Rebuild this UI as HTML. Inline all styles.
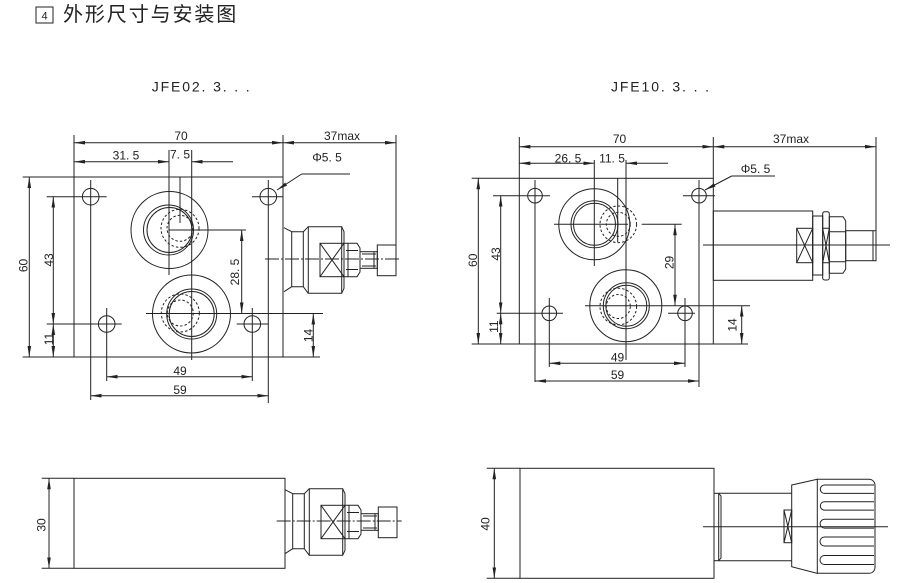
<!DOCTYPE html>
<html><head><meta charset="utf-8"><style>
html,body{margin:0;padding:0;background:#fff;}
svg{display:block;}
text{font-family:"Liberation Sans","Noto Sans CJK SC",sans-serif;fill:#222;}
</style></head><body>
<svg width="903" height="583" viewBox="0 0 903 583" xmlns="http://www.w3.org/2000/svg">
<defs>
<marker id="ar" markerUnits="userSpaceOnUse" markerWidth="12" markerHeight="6" refX="11" refY="3" orient="auto-start-reverse" viewBox="0 0 12 6"><path d="M0,1.2 L11,3 L0,4.8 Z" fill="#222"/></marker>
<g id="valveL" fill="none" stroke="#222" stroke-width="1">
 <path d="M284,227.7 L291.7,231.7 L291.7,286.7 L284,291.7"/>
 <path d="M291.7,231.7 H303.3 L308.3,226.7 M291.7,286.7 H303.3 L308.3,293.3"/>
 <line x1="303.3" y1="231.7" x2="303.3" y2="286.7"/>
 <path d="M308.3,226.7 L341.7,226.7 L344,231.7 L344,288.3 L341.7,293.3 L308.3,293.3 Z"/>
 <line x1="341.7" y1="226.7" x2="341.7" y2="293.3"/>
 <rect x="320" y="243.3" width="24" height="33.4"/>
 <path d="M320,243.3 L344,276.7 M344,243.3 L320,276.7"/>
 <path d="M344,243.3 H357 L360,248 V272 L357,276.7 H344"/>
 <path d="M346,250.5 H358 M346,269.5 H358 M348,243.3 V276.7"/>
 <rect x="360" y="251.7" width="17.3" height="16.6"/>
 <path d="M362,254 H376 M362,266 H376 M374,251.7 V268.3"/>
 <rect x="377.3" y="245" width="18.7" height="30.7"/>
</g>
</defs>

<!-- Title -->
<rect x="36" y="7" width="17" height="16" fill="none" stroke="#222" stroke-width="1"/>
<text x="44.5" y="19.5" font-size="11" text-anchor="middle">4</text>
<text x="63" y="21" font-size="20" letter-spacing="1.9">外形尺寸与安装图</text>

<text x="151.7" y="91.7" font-size="14" textLength="98" lengthAdjust="spacing">JFE02. 3. . .</text>
<text x="611" y="91.7" font-size="14" textLength="98" lengthAdjust="spacing">JFE10. 3. . .</text>

<g fill="none" stroke="#222" stroke-width="1">
<!-- ===== LEFT TOP ===== -->
<rect x="74" y="177" width="209" height="180"/>
<line x1="74" y1="135" x2="74" y2="177"/>
<line x1="283" y1="135" x2="283" y2="177"/>
<line x1="396" y1="135" x2="396" y2="246"/>
<line x1="74" y1="142.7" x2="283" y2="142.7" marker-start="url(#ar)" marker-end="url(#ar)"/>
<line x1="283" y1="142.7" x2="396" y2="142.7" marker-start="url(#ar)" marker-end="url(#ar)"/>
<line x1="74" y1="161.7" x2="169" y2="161.7" marker-start="url(#ar)" marker-end="url(#ar)"/>
<line x1="233" y1="161.7" x2="191.7" y2="161.7" marker-end="url(#ar)"/>
<line x1="169" y1="150" x2="169" y2="275"/>
<line x1="191.7" y1="150" x2="191.7" y2="360"/>
<line x1="180" y1="177" x2="180" y2="223"/>
<line x1="22.7" y1="177" x2="74" y2="177"/>
<line x1="22.7" y1="357" x2="320" y2="357"/>
<line x1="29.3" y1="177" x2="29.3" y2="357" marker-start="url(#ar)" marker-end="url(#ar)"/>
<line x1="53.3" y1="196.7" x2="53.3" y2="324" marker-start="url(#ar)" marker-end="url(#ar)"/>
<line x1="53.3" y1="324" x2="53.3" y2="357" marker-start="url(#ar)" marker-end="url(#ar)"/>
<line x1="46.7" y1="196.7" x2="106.7" y2="196.7"/>
<line x1="252" y1="196.7" x2="283" y2="196.7"/>
<line x1="46.7" y1="324" x2="121.7" y2="324"/>
<line x1="236.7" y1="324" x2="268" y2="324"/>
<line x1="90.7" y1="180" x2="90.7" y2="400"/>
<line x1="268.3" y1="180" x2="268.3" y2="403"/>
<line x1="106.7" y1="308" x2="106.7" y2="381"/>
<line x1="252.3" y1="308" x2="252.3" y2="381"/>
<circle cx="90.7" cy="196.7" r="8.3"/>
<circle cx="268.3" cy="196.7" r="8.3"/>
<circle cx="106.7" cy="324" r="8.3"/>
<circle cx="252.3" cy="324" r="8.3"/>
<circle cx="169.5" cy="230" r="38.5"/>
<circle cx="168.5" cy="230" r="25"/>
<circle cx="169.5" cy="230" r="22.5"/>
<circle cx="180" cy="228.3" r="19" stroke-dasharray="2.5 2"/>
<circle cx="180" cy="228.3" r="13" stroke-dasharray="2.5 2"/>
<line x1="169" y1="230" x2="246" y2="230"/>
<circle cx="191.5" cy="314" r="39"/>
<circle cx="191.7" cy="314" r="25"/>
<circle cx="191.7" cy="314" r="22.5"/>
<circle cx="180.3" cy="313" r="19" stroke-dasharray="2.5 2"/>
<circle cx="180.3" cy="313" r="13" stroke-dasharray="2.5 2"/>
<line x1="146" y1="313.5" x2="323" y2="313.5"/>
<line x1="241.7" y1="230" x2="241.7" y2="313.5" marker-start="url(#ar)" marker-end="url(#ar)"/>
<line x1="313.3" y1="313.5" x2="313.3" y2="357" marker-start="url(#ar)" marker-end="url(#ar)"/>
<line x1="106.7" y1="376.7" x2="252.3" y2="376.7" marker-start="url(#ar)" marker-end="url(#ar)"/>
<line x1="90.7" y1="395.7" x2="268.3" y2="395.7" marker-start="url(#ar)" marker-end="url(#ar)"/>
<line x1="301.7" y1="174" x2="277" y2="190" marker-end="url(#ar)"/>
<line x1="301.7" y1="174" x2="350" y2="174"/>
<line x1="265" y1="259" x2="400" y2="259" stroke-dasharray="14 2 2 2"/>
<use href="#valveL"/>

<!-- ===== RIGHT TOP ===== -->
<rect x="519.3" y="178.3" width="194" height="165.7"/>
<line x1="519.3" y1="137" x2="519.3" y2="178.3"/>
<line x1="713.3" y1="137" x2="713.3" y2="178.3"/>
<line x1="876" y1="137" x2="876" y2="231"/>
<line x1="519.3" y1="146.7" x2="713.3" y2="146.7" marker-start="url(#ar)" marker-end="url(#ar)"/>
<line x1="713.3" y1="146.7" x2="876" y2="146.7" marker-start="url(#ar)" marker-end="url(#ar)"/>
<line x1="519.3" y1="163.3" x2="594.3" y2="163.3" marker-start="url(#ar)" marker-end="url(#ar)"/>
<line x1="668" y1="163.3" x2="626" y2="163.3" marker-end="url(#ar)"/>
<line x1="594.3" y1="160" x2="594.3" y2="266"/>
<line x1="626" y1="160" x2="626" y2="360"/>
<line x1="617.7" y1="178.3" x2="617.7" y2="242"/>
<line x1="471.7" y1="178.3" x2="519.3" y2="178.3"/>
<line x1="471.7" y1="344" x2="748" y2="344"/>
<line x1="478.3" y1="178.3" x2="478.3" y2="344" marker-start="url(#ar)" marker-end="url(#ar)"/>
<line x1="500.7" y1="195.7" x2="500.7" y2="313.3" marker-start="url(#ar)" marker-end="url(#ar)"/>
<line x1="500.7" y1="313.3" x2="500.7" y2="344" marker-start="url(#ar)" marker-end="url(#ar)"/>
<line x1="493" y1="195.7" x2="550" y2="195.7"/>
<line x1="683" y1="195.7" x2="715" y2="195.7"/>
<line x1="496.7" y1="313.3" x2="563" y2="313.3"/>
<line x1="668" y1="313.3" x2="695" y2="313.3"/>
<line x1="535" y1="180" x2="535" y2="382"/>
<line x1="699" y1="180" x2="699" y2="387"/>
<line x1="549.3" y1="298" x2="549.3" y2="367"/>
<line x1="685" y1="298" x2="685" y2="367"/>
<circle cx="535" cy="195.7" r="7.3"/>
<circle cx="699" cy="195.7" r="7.3"/>
<circle cx="549.3" cy="313.3" r="7.3"/>
<circle cx="685" cy="313.3" r="7.3"/>
<circle cx="594.3" cy="224.3" r="35.5"/>
<circle cx="594.5" cy="224.3" r="23.5"/>
<circle cx="594.5" cy="224.3" r="21"/>
<circle cx="618.3" cy="224.3" r="18.3" stroke-dasharray="2.5 2"/>
<circle cx="618.3" cy="224.3" r="12" stroke-dasharray="2.5 2"/>
<line x1="554" y1="224.3" x2="628" y2="224.3"/>
<line x1="641.7" y1="224.3" x2="681.7" y2="224.3"/>
<circle cx="625.8" cy="305.7" r="36"/>
<circle cx="626.3" cy="305.7" r="23"/>
<circle cx="626.3" cy="305.7" r="20.5"/>
<circle cx="618.3" cy="306.5" r="18.3" stroke-dasharray="2.5 2"/>
<circle cx="618.3" cy="306.5" r="12" stroke-dasharray="2.5 2"/>
<line x1="585" y1="305.7" x2="750" y2="305.7"/>
<line x1="675" y1="224.3" x2="675" y2="305.7" marker-start="url(#ar)" marker-end="url(#ar)"/>
<line x1="741.7" y1="305.7" x2="741.7" y2="344" marker-start="url(#ar)" marker-end="url(#ar)"/>
<line x1="549.3" y1="363.3" x2="685" y2="363.3" marker-start="url(#ar)" marker-end="url(#ar)"/>
<line x1="535" y1="381" x2="699" y2="381" marker-start="url(#ar)" marker-end="url(#ar)"/>
<line x1="731.7" y1="176" x2="705" y2="190" marker-end="url(#ar)"/>
<line x1="731.7" y1="176" x2="775" y2="176"/>
<!-- right valve -->
<rect x="713.3" y="211" width="99.4" height="69.3"/>
<rect x="796.7" y="228.3" width="16" height="34.4"/>
<path d="M796.7,228.3 L812.7,262.7 M812.7,228.3 L796.7,262.7"/>
<rect x="812.7" y="216" width="10" height="59"/>
<rect x="822.7" y="211.7" width="6.6" height="68.3" rx="2"/>
<path d="M822.7,228.3 L829.3,262.7 M829.3,228.3 L822.7,262.7 M822.7,228.3 H829.3 M822.7,262.7 H829.3"/>
<path d="M829.3,216.7 H843 L845.7,221 V269 L843,273.3 H829.3 Z"/>
<path d="M829.3,231.7 H845.7 M829.3,261.7 H845.7"/>
<rect x="845.7" y="230.7" width="30.3" height="30"/>
<path d="M873,230.7 V260.7"/>
<line x1="703" y1="245" x2="890" y2="245"/>

<!-- ===== BOTTOM LEFT ===== -->
<rect x="74" y="478.3" width="211" height="90"/>
<line x1="41.7" y1="478.3" x2="74" y2="478.3"/>
<line x1="41.7" y1="568.3" x2="74" y2="568.3"/>
<line x1="49" y1="478.3" x2="49" y2="568.3" marker-start="url(#ar)" marker-end="url(#ar)"/>
<use href="#valveL" transform="translate(1,262)"/>
<line x1="276.7" y1="521" x2="401.7" y2="521" stroke-dasharray="14 2 2 2"/>

<!-- ===== BOTTOM RIGHT ===== -->
<rect x="520" y="468.3" width="194" height="110"/>
<line x1="486.7" y1="468.3" x2="520" y2="468.3"/>
<line x1="486.7" y1="578.3" x2="520" y2="578.3"/>
<line x1="494.3" y1="468.3" x2="494.3" y2="578.3" marker-start="url(#ar)" marker-end="url(#ar)"/>
<rect x="714" y="493.3" width="4.7" height="67.4"/>
<path d="M718.7,493.3 L721,496 V558 L718.7,560.7"/>
<line x1="718.7" y1="493.3" x2="791.7" y2="493.3"/>
<line x1="718.7" y1="560.7" x2="791.7" y2="560.7"/>
<rect x="784" y="510" width="7.7" height="32.7"/>
<path d="M784,510 L791.7,542.7 M791.7,510 L784,542.7"/>
<polygon points="791.7,485 817.3,479.3 817.3,573.3 791.7,566.7"/>
<path d="M817.3,479.3 H869 A6,6 0 0 1 875,485.3 V567.3 A6,6 0 0 1 869,573.3 H817.3"/>
<path d="M874,485 H824.5 A4.2,4.2 0 0 0 824.5,493.4 H874"/>
<path d="M874,501.7 H824.5 A4.2,4.2 0 0 0 824.5,510.1 H874"/>
<path d="M874,519.3 H824.5 A4.4,4.4 0 0 0 824.5,528.1 H874"/>
<path d="M874,537 H824.5 A4.5,4.5 0 0 0 824.5,546 H874"/>
<path d="M874,555.5 H824.5 A4.5,4.5 0 0 0 824.5,564.5 H874"/>
<line x1="703" y1="526.7" x2="888" y2="526.7"/>
</g>

<!-- Dimension texts -->
<g font-size="12">
<text x="181" y="140" text-anchor="middle">70</text>
<text x="342" y="140" text-anchor="middle">37max</text>
<text x="126" y="159.5" text-anchor="middle">31. 5</text>
<text x="180" y="158.5" text-anchor="middle">7. 5</text>
<text x="327" y="161.7" text-anchor="middle">Φ5. 5</text>
<text x="180" y="375" text-anchor="middle">49</text>
<text x="180" y="394" text-anchor="middle">59</text>
<text transform="translate(27.3,265.5) rotate(-90)" text-anchor="middle">60</text>
<text transform="translate(53,260) rotate(-90)" text-anchor="middle">43</text>
<text transform="translate(53,339) rotate(-90)" text-anchor="middle">11</text>
<text transform="translate(239,272) rotate(-90)" text-anchor="middle">28. 5</text>
<text transform="translate(312.3,335.5) rotate(-90)" text-anchor="middle">14</text>

<text x="619.5" y="143" text-anchor="middle">70</text>
<text x="791" y="143" text-anchor="middle">37max</text>
<text x="568" y="162.5" text-anchor="middle">26. 5</text>
<text x="612" y="162.5" text-anchor="middle">11. 5</text>
<text x="755.5" y="173" text-anchor="middle">Φ5. 5</text>
<text x="617.5" y="361.5" text-anchor="middle">49</text>
<text x="617.5" y="379" text-anchor="middle">59</text>
<text transform="translate(477,260.3) rotate(-90)" text-anchor="middle">60</text>
<text transform="translate(500,254) rotate(-90)" text-anchor="middle">43</text>
<text transform="translate(498,326.7) rotate(-90)" text-anchor="middle">11</text>
<text transform="translate(673.7,262.5) rotate(-90)" text-anchor="middle">29</text>
<text transform="translate(736.7,325) rotate(-90)" text-anchor="middle">14</text>

<text transform="translate(45.7,525) rotate(-90)" text-anchor="middle">30</text>
<text transform="translate(489.5,524) rotate(-90)" text-anchor="middle">40</text>
</g>
</svg>
</body></html>
